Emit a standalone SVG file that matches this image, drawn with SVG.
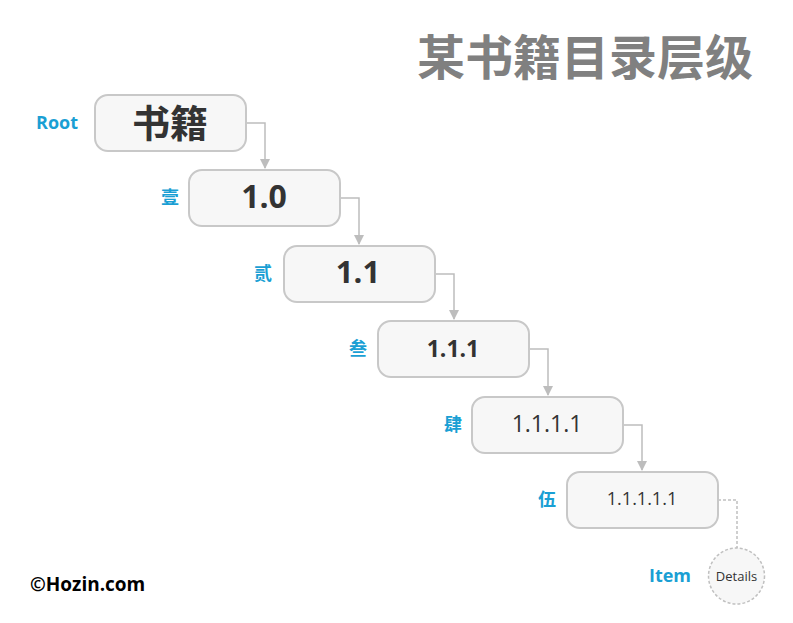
<svg xmlns="http://www.w3.org/2000/svg" width="793" height="623" viewBox="0 0 793 623">
<style>
.box{fill:#f7f7f7;stroke:#c8c8c8;stroke-width:2}
.lbl{fill:#1a9fd4;font-family:"Open Sans","Noto Sans CJK SC",sans-serif;font-weight:bold;font-size:18px;text-anchor:middle}
.t{fill:#333;font-family:"Open Sans","Noto Sans CJK SC",sans-serif;text-anchor:middle}
.c{fill:none;stroke:#bdbdbd;stroke-width:1.5}
</style>
<defs>
<marker id="ah" markerWidth="10" markerHeight="10" refX="9" refY="5" orient="auto" markerUnits="userSpaceOnUse">
<path d="M0,0 L10,5 L0,10 z" fill="#bdbdbd"/>
</marker>
</defs>
<rect width="793" height="623" fill="#fff"/>
<text x="585" y="75" fill="#808080" font-family="Noto Sans CJK SC,sans-serif" font-weight="bold" font-size="48" text-anchor="middle">某书籍目录层级</text>
<g id="connectors">
<path class="c" d="M246,123 H265 V168" marker-end="url(#ah)"/>
<path class="c" d="M340,198 H359 V244" marker-end="url(#ah)"/>
<path class="c" d="M435,274 H454 V319" marker-end="url(#ah)"/>
<path class="c" d="M529,349 H548 V395" marker-end="url(#ah)"/>
<path class="c" d="M623,425 H642 V470" marker-end="url(#ah)"/>
<path d="M718,500 H737 V548" fill="none" stroke="#c0c0c0" stroke-width="1.5" stroke-dasharray="3,2"/>
</g>
<g id="n0">
<rect class="box" x="95" y="95" width="151" height="56" rx="13"/>
<text class="t" x="170" y="137" font-size="38" font-weight="bold" font-family="Noto Sans CJK SC,sans-serif">书籍</text>
<text class="lbl" x="57" y="129">Root</text>
</g>
<g id="n1">
<rect class="box" x="189" y="170" width="151" height="56" rx="13"/>
<text class="t" x="264" y="208" font-size="32" font-weight="bold">1.0</text>
<text class="lbl" x="170" y="204">壹</text>
</g>
<g id="n2">
<rect class="box" x="284" y="246" width="151" height="56" rx="13"/>
<text class="t" x="358" y="283" font-size="31" font-weight="bold">1.1</text>
<text class="lbl" x="263" y="280">贰</text>
</g>
<g id="n3">
<rect class="box" x="378" y="321" width="151" height="56" rx="13"/>
<text class="t" x="453" y="357" font-size="23" font-weight="bold">1.1.1</text>
<text class="lbl" x="358" y="355">叁</text>
</g>
<g id="n4">
<rect class="box" x="472" y="397" width="151" height="56" rx="13"/>
<text class="t" x="547" y="432" font-size="23">1.1.1.1</text>
<text class="lbl" x="453" y="431">肆</text>
</g>
<g id="n5">
<rect class="box" x="567" y="472" width="151" height="56" rx="13"/>
<text class="t" x="642" y="505" font-size="18">1.1.1.1.1</text>
<text class="lbl" x="547" y="506">伍</text>
</g>
<g id="item">
<circle cx="736.5" cy="576" r="28" fill="#f7f7f7" stroke="#c0c0c0" stroke-width="1.5" stroke-dasharray="3,2"/>
<text class="t" x="736.5" y="581" font-size="13">Details</text>
<text class="lbl" x="670" y="582">Item</text>
</g>
<text x="30" y="591" fill="#000" font-family="Open Sans,sans-serif" font-weight="bold" font-size="19">©Hozin.com</text>
</svg>
